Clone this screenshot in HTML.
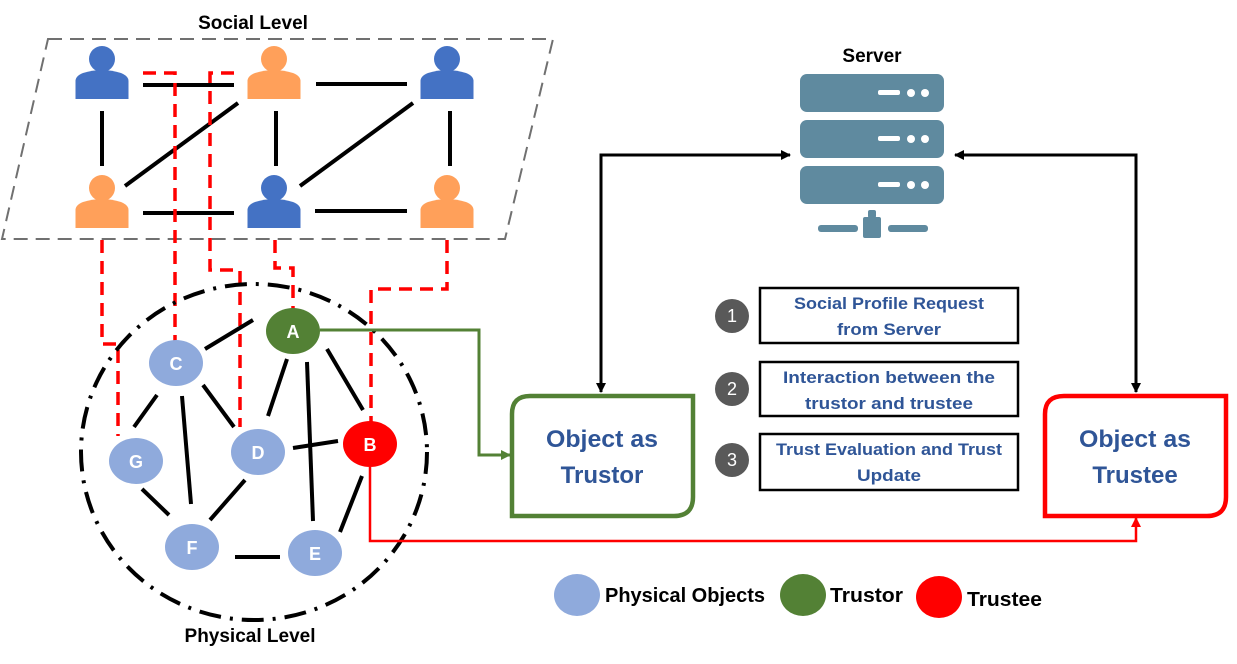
<!DOCTYPE html>
<html><head><meta charset="utf-8"><style>
html,body{margin:0;padding:0;background:#fff;}
svg{display:block;font-family:"Liberation Sans",sans-serif;}
</style></head><body>
<svg width="1237" height="664" viewBox="0 0 1237 664" xmlns="http://www.w3.org/2000/svg">
<defs>
<marker id="ak" markerWidth="10" markerHeight="10" refX="9" refY="5" orient="auto" markerUnits="userSpaceOnUse"><path d="M0,0 L10,5 L0,10 z" fill="#000"/></marker>
<marker id="ag" markerWidth="10" markerHeight="10" refX="9" refY="5" orient="auto" markerUnits="userSpaceOnUse"><path d="M0,0 L10,5 L0,10 z" fill="#538135"/></marker>
<marker id="ar" markerWidth="10" markerHeight="10" refX="9" refY="5" orient="auto" markerUnits="userSpaceOnUse"><path d="M0,0 L10,5 L0,10 z" fill="#f00"/></marker>
<g id="p"><circle cx="0" cy="-14" r="13"/><path d="M-26.5,26 L-26.5,8 Q-26.5,3 -19,0 Q0,-6 19,0 Q26.5,3 26.5,8 L26.5,26 z"/></g>
</defs>
<text x="253" y="29" font-size="19" font-weight="bold" text-anchor="middle">Social Level</text>
<polygon points="48,39 553,39 505,239 2,239" fill="none" stroke="#707070" stroke-width="2" stroke-dasharray="14,8"/>
<g stroke="#000" stroke-width="4">
<line x1="143" y1="85" x2="234" y2="85"/><line x1="316" y1="84" x2="407" y2="84"/>
<line x1="102" y1="111" x2="102" y2="166"/><line x1="276" y1="111" x2="276" y2="166"/><line x1="450" y1="111" x2="450" y2="166"/>
<line x1="125" y1="186" x2="238" y2="103"/><line x1="300" y1="186" x2="413" y2="103"/>
<line x1="143" y1="213" x2="234" y2="213"/><line x1="315" y1="211" x2="407" y2="211"/>
</g>
<g fill="#4472c4"><use href="#p" x="102" y="73"/><use href="#p" x="447" y="73"/><use href="#p" x="274" y="202"/></g>
<g fill="#ffa05a"><use href="#p" x="274" y="73"/><use href="#p" x="102" y="202"/><use href="#p" x="447" y="202"/></g>
<g fill="none" stroke="#f00" stroke-width="3.5" stroke-dasharray="13,8">
<path d="M143,73 L175,73 L175,343"/>
<path d="M234,73 L210,73 L210,270 L240,270 L240,427"/>
<path d="M102,240 L102,344 L118,344 L118,436"/>
<path d="M275,240 L275,268 L293,268 L293,309"/>
<path d="M447,240 L447,289 L371,289 L371,422"/>
</g>
<ellipse cx="254" cy="452" rx="173" ry="168" fill="none" stroke="#000" stroke-width="4" stroke-dasharray="22,9,3,9"/>
<g stroke="#000" stroke-width="4">
<line x1="205" y1="349" x2="253" y2="320"/><line x1="157" y1="395" x2="134" y2="427"/>
<line x1="182" y1="396" x2="191" y2="504"/><line x1="203" y1="385" x2="234" y2="427"/>
<line x1="287" y1="359" x2="268" y2="416"/><line x1="307" y1="362" x2="313" y2="521"/>
<line x1="327" y1="349" x2="363" y2="410"/><line x1="293" y1="448" x2="338" y2="441"/>
<line x1="245" y1="480" x2="210" y2="520"/><line x1="142" y1="489" x2="169" y2="515"/>
<line x1="362" y1="476" x2="340" y2="532"/><line x1="235" y1="557" x2="280" y2="557"/>
</g>
<path d="M320,330 L479,330 L479,455 L510,455" fill="none" stroke="#538135" stroke-width="3" marker-end="url(#ag)"/>
<path d="M370,467 L370,541 L1136,541 L1136,518" fill="none" stroke="#f00" stroke-width="2.5" marker-end="url(#ar)"/>
<g font-size="18" font-weight="bold" fill="#fff" text-anchor="middle">
<ellipse cx="176" cy="363" rx="27" ry="23" fill="#8faadc"/><text x="176" y="370">C</text>
<ellipse cx="136" cy="461" rx="27" ry="23" fill="#8faadc"/><text x="136" y="468">G</text>
<ellipse cx="258" cy="452" rx="27" ry="23" fill="#8faadc"/><text x="258" y="459">D</text>
<ellipse cx="192" cy="547" rx="27" ry="23" fill="#8faadc"/><text x="192" y="554">F</text>
<ellipse cx="315" cy="553" rx="27" ry="23" fill="#8faadc"/><text x="315" y="560">E</text>
<ellipse cx="293" cy="331" rx="27" ry="23" fill="#538135"/><text x="293" y="338">A</text>
<ellipse cx="370" cy="444" rx="27" ry="23" fill="#f00"/><text x="370" y="451">B</text>
</g>
<text x="250" y="642" font-size="19" font-weight="bold" text-anchor="middle">Physical Level</text>
<text x="872" y="62" font-size="19" font-weight="bold" text-anchor="middle">Server</text>
<g fill="#5f8a9f">
<rect x="800" y="74" width="144" height="38" rx="7"/><rect x="800" y="120" width="144" height="38" rx="7"/><rect x="800" y="166" width="144" height="38" rx="7"/>
<rect x="863" y="217" width="18" height="21" rx="2"/><rect x="868" y="210" width="8" height="8" rx="2"/><rect x="818" y="225" width="40" height="7" rx="3"/><rect x="888" y="225" width="40" height="7" rx="3"/>
</g>
<g fill="#fff"><rect x="878" y="90" width="22" height="5" rx="2"/><circle cx="911" cy="93" r="4"/><circle cx="925" cy="93" r="4"/>
<rect x="878" y="136" width="22" height="5" rx="2"/><circle cx="911" cy="139" r="4"/><circle cx="925" cy="139" r="4"/>
<rect x="878" y="182" width="22" height="5" rx="2"/><circle cx="911" cy="185" r="4"/><circle cx="925" cy="185" r="4"/></g>
<path d="M601,170 L601,155 L790,155" fill="none" stroke="#000" stroke-width="3" marker-end="url(#ak)"/>
<path d="M601,165 L601,392" fill="none" stroke="#000" stroke-width="3" marker-end="url(#ak)"/>
<path d="M1136,165 L1136,155 L955,155" fill="none" stroke="#000" stroke-width="3" marker-end="url(#ak)"/>
<path d="M1136,160 L1136,392" fill="none" stroke="#000" stroke-width="3" marker-end="url(#ak)"/>
<path d="M530,396 L693,396 L693,497 Q693,516 674,516 L512,516 L512,414 Q512,396 530,396 z" fill="#fff" stroke="#538135" stroke-width="4.5"/>
<path d="M1064,396 L1226,396 L1226,497 Q1226,516 1207,516 L1045,516 L1045,414 Q1045,396 1064,396 z" fill="#fff" stroke="#f00" stroke-width="4.5"/>
<g font-size="24" font-weight="bold" fill="#2f5597" text-anchor="middle">
<text x="602" y="447" textLength="112" lengthAdjust="spacingAndGlyphs">Object as</text><text x="602" y="483">Trustor</text>
<text x="1135" y="447" textLength="112" lengthAdjust="spacingAndGlyphs">Object as</text><text x="1135" y="483">Trustee</text>
</g>
<g fill="#fff" stroke="#000" stroke-width="2.5">
<rect x="760" y="288" width="258" height="55"/><rect x="760" y="362" width="258" height="54"/><rect x="760" y="434" width="258" height="56"/>
</g>
<g fill="#595959"><circle cx="732" cy="316" r="17"/><circle cx="732" cy="389" r="17"/><circle cx="732" cy="460" r="17"/></g>
<g fill="#fff" font-size="18" text-anchor="middle"><text x="732" y="322">1</text><text x="732" y="395">2</text><text x="732" y="466">3</text></g>
<g font-size="17" font-weight="bold" fill="#2f5597" text-anchor="middle">
<text x="889" y="309" textLength="190" lengthAdjust="spacingAndGlyphs">Social Profile Request</text><text x="889" y="335" textLength="104" lengthAdjust="spacingAndGlyphs">from Server</text>
<text x="889" y="383" textLength="212" lengthAdjust="spacingAndGlyphs">Interaction between the</text><text x="889" y="409" textLength="168" lengthAdjust="spacingAndGlyphs">trustor and trustee</text>
<text x="889" y="455" textLength="226" lengthAdjust="spacingAndGlyphs">Trust Evaluation and Trust</text><text x="889" y="481" textLength="64" lengthAdjust="spacingAndGlyphs">Update</text>
</g>
<ellipse cx="577" cy="595" rx="23" ry="21" fill="#8faadc"/>
<ellipse cx="803" cy="595" rx="23" ry="21" fill="#538135"/>
<ellipse cx="939" cy="597" rx="23" ry="21" fill="#f00"/>
<g font-size="20" font-weight="bold">
<text x="605" y="602" textLength="160" lengthAdjust="spacingAndGlyphs">Physical Objects</text><text x="830" y="602" textLength="73" lengthAdjust="spacingAndGlyphs">Trustor</text><text x="967" y="606" textLength="75" lengthAdjust="spacingAndGlyphs">Trustee</text>
</g>
</svg>
</body></html>
